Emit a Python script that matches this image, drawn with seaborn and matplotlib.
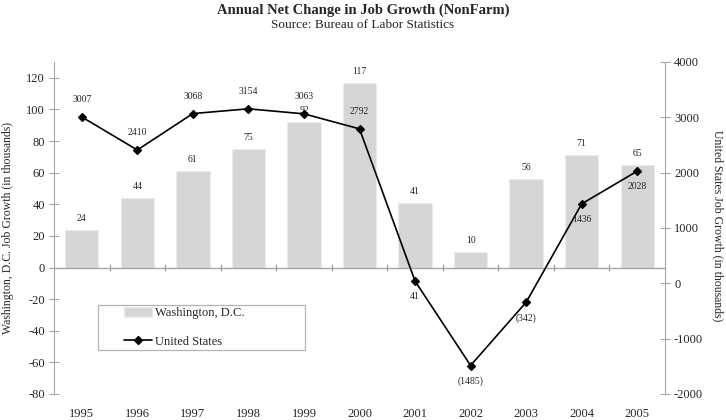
import numpy as np
import pandas as pd
import matplotlib
matplotlib.use("Agg")
import matplotlib.pyplot as plt
from matplotlib.patches import Patch, Rectangle
from matplotlib.lines import Line2D
import seaborn as sns

# data
years = ["1995", "1996", "1997", "1998", "1999", "2000",
         "2001", "2002", "2003", "2004", "2005"]
dc_growth = [24, 44, 61, 75, 92, 117, 41, 10, 56, 71, 65]
us_growth = [3007, 2410, 3068, 3154, 3063, 2792, 41, -1485, -342, 1436, 2028]

left_ticks = [-80, -60, -40, -20, 0, 20, 40, 60, 80, 100, 120]
right_ticks = [-2000, -1000, 0, 1000, 2000, 3000, 4000]

sns.set_style("white")
plt.rcParams["font.family"] = ["Liberation Serif", "DejaVu Serif"]
plt.rcParams["axes.unicode_minus"] = False

df = pd.DataFrame({"year": years, "dc": dc_growth, "us": us_growth})

fig = plt.figure(figsize=(7.26, 4.2), dpi=100)
ax = fig.add_axes([54 / 726, 26 / 420, 611 / 726, 332 / 420])
ax2 = ax.twinx()

grey = "#a6a6a6"

# bars - Washington DC
sns.barplot(data=df, x="year", y="dc", ax=ax, color="#d6d6d6",
            width=0.6, edgecolor="#ececec", linewidth=0.8, saturation=1)
ax.set_xlim(-0.5, len(years) - 0.5)
ax.set_ylim(-80, 130)
ax.set_yticks(left_ticks)
ax.set_xlabel("")
ax.set_ylabel("")

# zero line with category dividers
ax.axhline(0, color=grey, lw=1, zorder=1)
ax.vlines(np.arange(len(years) - 1) + 0.5, -2.2, 2.2, color=grey, lw=1)

# line - United States
sns.pointplot(data=df, x="year", y="us", ax=ax2, color="black",
              marker="D", markersize=4.5, linewidth=1.2)
ax2.set_xlim(-0.5, len(years) - 0.5)
ax2.set_ylim(-2000, 4000)
ax2.set_yticks(right_ticks)
ax2.set_xlabel("")
ax2.set_ylabel("")

for a in (ax, ax2):
    for s in ("top", "bottom"):
        a.spines[s].set_visible(False)
ax.spines["right"].set_visible(False)
ax2.spines["left"].set_visible(False)
ax.spines["left"].set_color(grey)
ax2.spines["right"].set_color(grey)

ax.tick_params(axis="y", direction="inout", length=7, color=grey,
               labelsize=9, pad=3, left=True)
ax2.tick_params(axis="y", direction="inout", length=7, color=grey,
                labelsize=9, pad=3, right=True)
ax.tick_params(axis="x", length=0, labelsize=9, pad=10)
ax2.tick_params(axis="x", length=0, labelbottom=False)

# data labels
for i, v in enumerate(dc_growth):
    ax.annotate(str(v), (i, v), xytext=(0, 5), textcoords="offset points",
                ha="center", va="bottom", fontsize=7)

for i, v in enumerate(us_growth):
    txt = f"({abs(v)})" if v < 0 else str(v)
    if i <= 5:
        ax2.annotate(txt, (i, v), xytext=(0, 9), textcoords="offset points",
                     ha="center", va="bottom", fontsize=7)
    else:
        ax2.annotate(txt, (i, v), xytext=(0, -8), textcoords="offset points",
                     ha="center", va="top", fontsize=7)

# legend box
ax.add_patch(Rectangle((44 / 611, 44 / 332), 207 / 611, 45 / 332,
                       transform=ax.transAxes, fill=False,
                       edgecolor="#b4b4b4", lw=0.9, zorder=5))
handles = [Patch(facecolor="#d6d6d6", edgecolor="#ececec"),
           Line2D([], [], color="black", marker="D", markersize=4.5, lw=1.2)]
ax.legend(handles, ["Washington, D.C.", "United States"],
          loc="center left", bbox_to_anchor=(70 / 611, 66.5 / 332),
          frameon=False, fontsize=9, handlelength=2.2, handleheight=0.9,
          handletextpad=0.3, labelspacing=1.3, borderpad=0, borderaxespad=0)

# titles and axis labels
fig.text(0.5, 1 - 10 / 420, "Annual Net Change in Job Growth (NonFarm)",
         ha="center", va="center", fontsize=10.5, fontweight="bold")
fig.text(0.5, 1 - 25 / 420, "Source: Bureau of Labor Statistics",
         ha="center", va="center", fontsize=9.5)
fig.text(8 / 726, 1 - 228 / 420, "Washington, D.C. Job Growth (in thousands)",
         ha="center", va="center", rotation=90, fontsize=8.5)
fig.text(718 / 726, 1 - 226 / 420, "United States Job Growth (in thousands)",
         ha="center", va="center", rotation=270, fontsize=8.5)

fig.savefig("out.png", dpi=100)
